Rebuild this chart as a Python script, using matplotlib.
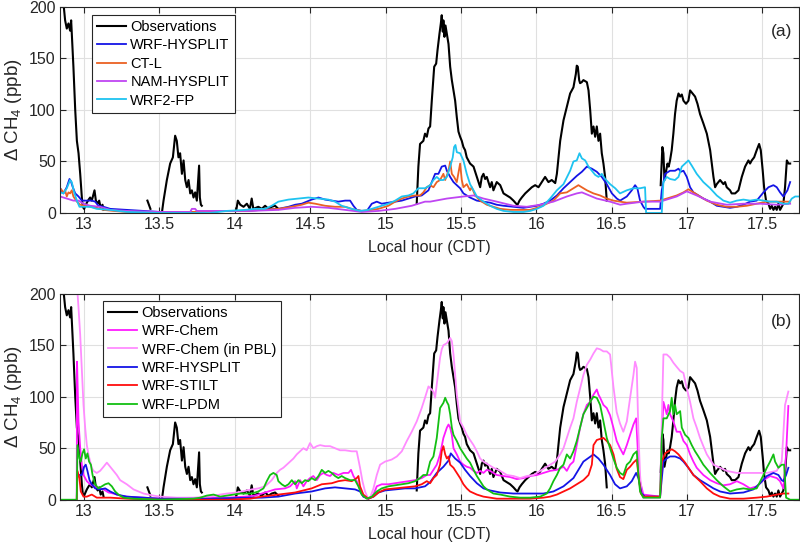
import numpy as np
import matplotlib
matplotlib.use("Agg")
import matplotlib.pyplot as plt

nan = np.nan

xticks = [13, 13.5, 14, 14.5, 15, 15.5, 16, 16.5, 17, 17.5]
xtick_labels = ["13", "13.5", "14", "14.5", "15", "15.5", "16", "16.5", "17", "17.5"]
yticks = [0, 50, 100, 150, 200]

# observations (same in both panels), nan = gap in the record
obs_t = [12.845, 12.862, 12.874, 12.885, 12.896, 12.907, 12.914, 12.929, 12.941, 12.952,
         12.963, 12.974, 12.985, 12.991, 13.000, 13.018, 13.030, 13.040, 13.051, 13.062,
         13.069, 13.078, 13.090, 13.100, 13.110, 13.122, 13.129, nan,
         13.420, 13.430, 13.440, nan,
         13.516, 13.527, 13.549, 13.571, 13.589, 13.604, 13.615, 13.626, 13.637, 13.649,
         13.660, 13.671, 13.682, 13.693, 13.704, 13.715, 13.726, 13.737, 13.748, 13.758,
         13.763, 13.768, 13.775, 13.781, nan,
         14.010, 14.020, 14.036, 14.058, 14.080, 14.100, 14.112, 14.123, 14.140, 14.156,
         14.179, 14.201, 14.223, 14.245, 14.267, 14.289, nan,
         15.207, 15.218, 15.229, 15.251, 15.262, 15.274, 15.285, 15.296, 15.307, 15.323,
         15.336, 15.345, 15.358, 15.367, 15.373, 15.380, 15.384, 15.391, 15.398, 15.407,
         15.418, 15.429, 15.440, 15.451, 15.462, 15.473, 15.484, 15.495, 15.506, 15.517,
         15.528, 15.539, 15.550, 15.561, 15.584, 15.606, 15.628, 15.639, 15.650, 15.661,
         15.672, 15.683, 15.694, 15.705, 15.716, 15.738, 15.761, 15.783, 15.805, 15.827,
         15.849, 15.867, 15.876, 15.889, 15.904, 15.927, 15.949, 15.971, 15.993, 16.015,
         16.037, 16.059, 16.081, 16.103, 16.126, 16.137, 16.148, 16.159, 16.181, 16.203,
         16.225, 16.247, 16.263, 16.269, 16.276, 16.285, 16.291, 16.302, 16.313, 16.336,
         16.347, 16.358, 16.369, 16.380, 16.391, 16.402, 16.413, 16.424, 16.435, 16.446,
         16.457, 16.468, nan,
         16.826, 16.837, 16.844, 16.851, 16.862, 16.871, 16.879, 16.888, 16.899, 16.910,
         16.921, 16.932, 16.944, 16.955, 16.966, 16.977, 16.994, 17.010, 17.021, 17.032,
         17.043, 17.054, 17.070, 17.087, 17.109, 17.132, 17.154, 17.165, 17.176, 17.187,
         17.198, 17.220, 17.242, 17.253, 17.264, 17.286, 17.297, 17.320, 17.342, 17.364,
         17.386, 17.408, 17.419, 17.430, 17.446, 17.463, 17.479, 17.490, 17.503, 17.512,
         17.525, 17.541, 17.552, 17.563, 17.574, 17.585, 17.596, 17.607, 17.618, 17.629,
         17.640, 17.651, 17.663, 17.674, 17.685]
obs_v = [230, 205, 187, 179, 184, 177, 187, 142, 100, 70,
         58, 38, 15, 6, 4, 10, 13, 15, 12, 18,
         22, 12, 9, 12, 5, 8, 3, nan,
         12, 8, 4, nan,
         0, 12, 32, 48, 54, 75, 70, 54, 58, 38,
         51, 32, 25, 32, 19, 22, 15, 20, 12, 35,
         46, 15, 8, 7, nan,
         3, 12, 8, 6, 9, 4, 14, 4, 5, 6,
         4, 7, 4, 6, 7, 4, nan,
         9, 45, 67, 70, 77, 74, 82, 84, 109, 142,
         145, 158, 174, 184, 192, 176, 187, 171, 182, 174,
         164, 142, 129, 119, 109, 93, 79, 74, 70, 64,
         61, 54, 51, 48, 45, 35, 25, 35, 38, 33,
         35, 30, 25, 30, 22, 30, 27, 19, 17, 15,
         12, 9, 8, 12, 15, 19, 22, 25, 27, 25,
         30, 35, 30, 32, 29, 38, 54, 70, 90, 103,
         116, 122, 135, 143, 142, 129, 126, 127, 129, 127,
         119, 100, 77, 84, 74, 84, 70, 77, 58, 48,
         35, 12, nan,
         27, 64, 58, 32, 41, 48, 45, 51, 61, 77,
         96, 109, 116, 113, 115, 109, 106, 109, 119, 117,
         115, 113, 106, 96, 87, 77, 61, 48, 35, 25,
         28, 32, 28, 30, 25, 22, 19, 19, 22, 35,
         45, 51, 48, 51, 54, 61, 67, 61, 41, 25,
         12, 9, 4, 7, 3, 6, 3, 9, 3, 6,
         9, 25, 51, 48, 48]

# panel (a) models
hys_a_t = [12.841, 12.863, 12.885, 12.903, 12.912, 12.925, 12.941, 12.963, 12.985, 13.018,
           13.051, 13.073, 13.095, 13.129, 13.173, 13.283, 13.394, 13.505, 13.726, 13.837,
           13.947, 14.068, 14.179, 14.289, 14.356, 14.400, 14.444, 14.510, 14.555, 14.599,
           14.643, 14.687, 14.732, 14.765, 14.787, 14.809, 14.842, 14.876, 14.909, 14.942,
           14.975, 15.019, 15.064, 15.108, 15.152, 15.196, 15.240, 15.285, 15.307, 15.329,
           15.351, 15.373, 15.396, 15.407, 15.429, 15.451, 15.473, 15.495, 15.517, 15.561,
           15.606, 15.650, 15.694, 15.738, 15.783, 15.849, 15.915, 15.960, 16.004, 16.048,
           16.092, 16.137, 16.181, 16.225, 16.269, 16.303, 16.336, 16.369, 16.402, 16.435,
           16.468, 16.502, 16.535, 16.556, 16.601, 16.634, 16.656, 16.671, 16.689, 16.711,
           16.722, 16.822, 16.833, 16.855, 16.888, 16.921, 16.944, 16.959, 16.977, 16.999,
           17.021, 17.043, 17.076, 17.109, 17.154, 17.198, 17.242, 17.286, 17.331, 17.375,
           17.419, 17.463, 17.508, 17.541, 17.574, 17.596, 17.618, 17.640, 17.667, 17.685]
hys_a_v = [24, 19, 25, 33, 31, 25, 19, 16, 12, 12,
           12, 11, 7, 6, 4, 3, 2, 1, 1, 2,
           2, 2, 3, 4, 6, 8, 9, 13, 15, 13,
           12, 11, 12, 12, 7, 3, 2, 2, 9, 11,
           9, 10, 11, 12, 14, 16, 17, 22, 30, 38,
           38, 45, 46, 41, 35, 30, 27, 24, 19, 15,
           12, 11, 10, 8, 7, 6, 5, 6, 7, 9,
           12, 17, 24, 30, 36, 40, 45, 43, 40, 35,
           28, 19, 14, 12, 16, 22, 27, 24, 12, 6,
           4, 4, 22, 38, 41, 41, 43, 40, 41, 35,
           25, 20, 17, 14, 11, 7, 6, 5, 6, 8,
           11, 12, 20, 25, 27, 25, 20, 16, 22, 30]

ctl_a_t = [12.841, 12.863, 12.874, 12.885, 12.896, 12.907, 12.918, 12.929, 12.952, 12.974,
           13.007, 13.040, 13.084, 13.129, 13.195, 13.283, 13.505, 13.726, 13.837, 13.947,
           14.068, 14.179, 14.289, 14.378, 14.444, 14.488, 14.533, 14.599, 14.665, 14.732,
           14.798, 14.842, 14.909, 14.953, 15.019, 15.064, 15.108, 15.152, 15.196, 15.229,
           15.251, 15.274, 15.296, 15.318, 15.340, 15.362, 15.384, 15.396, 15.418, 15.429,
           15.440, 15.455, 15.473, 15.495, 15.506, 15.517, 15.539, 15.561, 15.572, 15.595,
           15.628, 15.672, 15.716, 15.761, 15.827, 15.893, 15.960, 16.026, 16.070, 16.114,
           16.159, 16.203, 16.247, 16.280, 16.302, 16.336, 16.380, 16.424, 16.468, 16.513,
           16.556, 16.601, 16.711, 16.822, 16.888, 16.932, 16.977, 17.010, 17.043, 17.087,
           17.132, 17.198, 17.264, 17.331, 17.397, 17.463, 17.530, 17.596, 17.685]
ctl_a_v = [24, 20, 22, 16, 20, 19, 22, 16, 11, 8,
           7, 6, 5, 3, 2, 1, 0, 1, 2, 2,
           2, 3, 4, 6, 8, 10, 9, 7, 6, 6,
           3, 2, 3, 4, 7, 11, 14, 16, 17, 17,
           20, 25, 27, 25, 30, 32, 38, 32, 41, 50,
           38, 35, 30, 48, 32, 25, 28, 22, 25, 17,
           12, 8, 6, 4, 3, 3, 3, 6, 9, 12,
           19, 20, 24, 27, 25, 22, 19, 17, 14, 12,
           11, 10, 11, 12, 15, 17, 20, 23, 20, 16,
           12, 8, 6, 6, 7, 9, 11, 11, 11]

nam_a_t = [12.841, 12.885, 12.929, 12.963, 12.996, 13.040, 13.106, 13.173, 13.283, 13.505,
           13.704, 13.715, 13.737, 13.748, 13.837, 14.102, 14.289, 14.400, 14.510, 14.621,
           14.732, 14.842, 14.953, 15.064, 15.174, 15.262, 15.296, 15.407, 15.517, 15.584,
           15.650, 15.738, 15.849, 15.937, 16.026, 16.114, 16.203, 16.269, 16.303, 16.336,
           16.402, 16.490, 16.557, 16.601, 16.711, 16.822, 16.932, 16.999, 17.065, 17.154,
           17.264, 17.375, 17.486, 17.596, 17.685]
nam_a_v = [16, 14, 12, 12, 9, 7, 6, 3, 2, 1,
           1, 4, 4, 2, 2, 2, 3, 5, 6, 5,
           3, 1, 2, 4, 7, 11, 11, 14, 16, 17,
           14, 11, 7, 6, 8, 11, 16, 19, 20, 18,
           14, 11, 8, 9, 11, 11, 16, 21, 17, 11,
           8, 9, 9, 8, 9]

fp_a_t = [12.841, 12.863, 12.885, 12.907, 12.918, 12.934, 12.952, 12.969, 12.996, 13.040,
          13.084, 13.173, 13.283, 13.505, 13.837, 13.947, 14.068, 14.134, 14.201, 14.245,
          14.289, 14.356, 14.422, 14.488, 14.555, 14.621, 14.665, 14.709, 14.776, 14.831,
          14.886, 14.953, 15.019, 15.064, 15.108, 15.152, 15.185, 15.218, 15.262, 15.296,
          15.318, 15.340, 15.362, 15.384, 15.407, 15.429, 15.446, 15.455, 15.464, 15.473,
          15.495, 15.517, 15.539, 15.561, 15.584, 15.606, 15.650, 15.694, 15.738, 15.783,
          15.849, 15.915, 15.960, 16.004, 16.048, 16.092, 16.137, 16.181, 16.225, 16.247,
          16.269, 16.287, 16.303, 16.325, 16.347, 16.369, 16.391, 16.413, 16.435, 16.457,
          16.490, 16.524, 16.556, 16.601, 16.645, 16.689, 16.722, 16.729, 16.833, 16.844,
          16.866, 16.888, 16.921, 16.944, 16.966, 16.988, 17.010, 17.032, 17.065, 17.109,
          17.154, 17.198, 17.242, 17.286, 17.331, 17.375, 17.419, 17.463, 17.508, 17.552,
          17.596, 17.640, 17.673, 17.696, 17.718, 17.751]
fp_a_v = [20, 19, 24, 32, 30, 20, 12, 6, 6, 6,
          4, 3, 1, 0, 0, 2, 3, 4, 4, 7,
          11, 13, 14, 15, 14, 13, 11, 7, 4, 2,
          3, 6, 9, 12, 16, 17, 19, 24, 24, 27,
          32, 35, 32, 32, 35, 45, 54, 64, 66, 59,
          58, 51, 38, 28, 22, 16, 11, 7, 4, 2,
          1, 1, 2, 4, 7, 14, 22, 28, 41, 50,
          51, 58, 53, 51, 45, 41, 37, 35, 38, 33,
          28, 24, 19, 22, 24, 24, 25, 0, 0, 30,
          35, 33, 32, 35, 45, 48, 51, 46, 38, 30,
          24, 17, 12, 10, 12, 13, 12, 13, 12, 11,
          11, 9, 9, 14, 16, 16]

# panel (b) models
chem_b_t = [12.951, 12.953, 12.963, 12.974, 12.985, 12.996, 13.018, 13.040, 13.062, 13.095,
            13.129, 13.162, 13.195, 13.239, 13.283, 13.394, 13.505, 13.726, 13.837, 13.947,
            14.068, 14.134, 14.201, 14.267, 14.333, 14.367, 14.400, 14.411, 14.433, 14.455,
            14.477, 14.499, 14.521, 14.544, 14.566, 14.588, 14.610, 14.632, 14.654, 14.687,
            14.721, 14.754, 14.771, 14.787, 14.809, 14.831, 14.853, 14.886, 14.920, 14.942,
            14.975, 15.019, 15.064, 15.108, 15.152, 15.196, 15.240, 15.274, 15.296, 15.318,
            15.340, 15.362, 15.384, 15.407, 15.418, 15.429, 15.440, 15.451, 15.473, 15.495,
            15.517, 15.539, 15.561, 15.584, 15.606, 15.628, 15.650, 15.672, 15.694, 15.738,
            15.783, 15.827, 15.871, 15.915, 15.960, 16.004, 16.048, 16.092, 16.137, 16.181,
            16.203, 16.225, 16.247, 16.269, 16.291, 16.313, 16.336, 16.358, 16.380, 16.402,
            16.413, 16.424, 16.446, 16.468, 16.490, 16.512, 16.534, 16.556, 16.578, 16.601,
            16.623, 16.645, 16.663, 16.678, 16.689, 16.711, 16.822, 16.833, 16.844, 16.866,
            16.877, 16.888, 16.910, 16.932, 16.955, 16.977, 16.999, 17.021, 17.043, 17.065,
            17.109, 17.154, 17.198, 17.242, 17.286, 17.331, 17.375, 17.419, 17.463, 17.508,
            17.552, 17.596, 17.618, 17.640, 17.658, 17.673]
chem_b_v = [0, 134, 76, 50, 34, 24, 18, 15, 13, 11,
            10, 7, 6, 4, 3, 2, 1, 1, 2, 2,
            3, 4, 7, 10, 11, 13, 18, 11, 19, 13,
            18, 21, 23, 19, 24, 26, 24, 23, 26, 24,
            26, 26, 29, 23, 18, 10, 3, 1, 5, 13,
            15, 15, 16, 17, 18, 19, 21, 24, 24, 29,
            34, 44, 60, 70, 73, 70, 63, 50, 44, 37,
            34, 32, 31, 28, 26, 28, 26, 29, 28, 24,
            23, 22, 20, 21, 23, 24, 26, 28, 29, 32,
            28, 34, 37, 53, 70, 83, 92, 95, 102, 107,
            102, 99, 92, 89, 82, 70, 57, 50, 44, 53,
            63, 73, 79, 37, 18, 5, 3, 60, 95, 83,
            92, 83, 76, 66, 66, 57, 53, 44, 37, 31,
            24, 19, 16, 14, 15, 18, 15, 11, 13, 19,
            23, 21, 18, 11, 44, 91]

pbl_b_t = [12.952, 12.963, 12.974, 12.985, 12.996, 13.007, 13.018, 13.029, 13.040, 13.051,
           13.062, 13.084, 13.106, 13.129, 13.151, 13.173, 13.195, 13.217, 13.239, 13.283,
           13.328, 13.394, 13.460, 13.505, 13.615, 13.726, 13.837, 13.903, 13.947, 14.014,
           14.112, 14.156, 14.201, 14.245, 14.278, 14.300, 14.322, 14.344, 14.367, 14.389,
           14.411, 14.433, 14.455, 14.477, 14.499, 14.521, 14.544, 14.566, 14.599, 14.632,
           14.665, 14.698, 14.732, 14.776, 14.809, 14.831, 14.847, 14.864, 14.882, 14.898,
           14.920, 14.942, 14.964, 14.997, 15.041, 15.075, 15.108, 15.141, 15.174, 15.207,
           15.240, 15.262, 15.285, 15.318, 15.329, 15.340, 15.351, 15.362, 15.373, 15.384,
           15.407, 15.429, 15.440, 15.451, 15.462, 15.473, 15.484, 15.495, 15.506, 15.517,
           15.539, 15.561, 15.584, 15.606, 15.628, 15.650, 15.683, 15.716, 15.761, 15.805,
           15.849, 15.893, 15.937, 15.982, 16.026, 16.059, 16.092, 16.126, 16.159, 16.181,
           16.203, 16.225, 16.247, 16.269, 16.291, 16.313, 16.336, 16.358, 16.380, 16.402,
           16.424, 16.446, 16.468, 16.490, 16.512, 16.534, 16.556, 16.578, 16.601, 16.623,
           16.645, 16.656, 16.667, 16.678, 16.689, 16.700, 16.711, 16.822, 16.833, 16.844,
           16.866, 16.888, 16.910, 16.932, 16.955, 16.977, 16.999, 17.021, 17.043, 17.065,
           17.087, 17.109, 17.132, 17.154, 17.176, 17.220, 17.264, 17.331, 17.397, 17.463,
           17.530, 17.596, 17.629, 17.651, 17.673]
pbl_b_v = [210, 186, 160, 125, 92, 70, 53, 44, 37, 31,
           28, 26, 28, 32, 36, 32, 28, 24, 19, 15,
           10, 6, 4, 3, 2, 2, 3, 5, 6, 7,
           10, 11, 13, 19, 26, 29, 31, 34, 37, 40,
           44, 47, 50, 48, 55, 50, 52, 53, 52, 52,
           50, 48, 48, 47, 47, 31, 18, 8, 2, 2,
           11, 24, 34, 37, 39, 42, 47, 57, 66, 76,
           89, 99, 110, 105, 99, 112, 125, 138, 146, 150,
           152, 157, 154, 141, 121, 102, 89, 76, 73, 70,
           63, 58, 53, 47, 40, 37, 34, 31, 28, 24,
           23, 21, 23, 24, 28, 31, 34, 37, 44, 50,
           60, 70, 79, 95, 108, 121, 131, 136, 142, 147,
           146, 144, 144, 141, 110, 85, 74, 66, 76, 99,
           121, 134, 128, 66, 24, 6, 2, 2, 76, 141,
           141, 138, 133, 129, 125, 123, 108, 95, 79, 70,
           60, 52, 44, 39, 34, 31, 28, 26, 26, 26,
           26, 28, 37, 92, 105]

hys_b_t = [12.955, 12.985, 13.000, 13.011, 13.022, 13.036, 13.051, 13.073, 13.106, 13.140,
           13.173, 13.217, 13.283, 13.394, 13.505, 13.837, 14.102, 14.179, 14.289, 14.400,
           14.510, 14.599, 14.665, 14.732, 14.798, 14.831, 14.853, 14.886, 14.920, 14.953,
           14.997, 15.064, 15.130, 15.196, 15.262, 15.296, 15.340, 15.384, 15.418, 15.433,
           15.462, 15.495, 15.528, 15.561, 15.606, 15.650, 15.694, 15.761, 15.849, 15.960,
           16.048, 16.114, 16.181, 16.247, 16.313, 16.380, 16.413, 16.446, 16.490, 16.523,
           16.556, 16.601, 16.634, 16.663, 16.678, 16.700, 16.722, 16.822, 16.844, 16.866,
           16.888, 16.921, 16.955, 16.977, 17.010, 17.043, 17.087, 17.132, 17.176, 17.220,
           17.286, 17.375, 17.441, 17.486, 17.530, 17.574, 17.607, 17.629, 17.640, 17.658,
           17.673]
hys_b_v = [24, 24, 32, 34, 28, 19, 15, 11, 10, 11,
           8, 5, 3, 2, 1, 1, 2, 2, 3, 6,
           8, 11, 12, 11, 10, 8, 3, 1, 3, 7,
           9, 10, 11, 11, 13, 17, 26, 32, 38, 45,
           40, 36, 29, 23, 16, 11, 9, 7, 6, 6,
           6, 8, 13, 21, 37, 44, 40, 34, 24, 15,
           11, 13, 18, 26, 21, 6, 3, 3, 37, 40,
           42, 42, 40, 37, 31, 24, 19, 15, 11, 8,
           6, 7, 10, 16, 23, 26, 24, 19, 18, 24,
           31]

stilt_b_t = [12.951, 12.956, 12.969, 12.978, 12.996, 13.018, 13.051, 13.084, 13.173, 13.283,
             13.505, 13.947, 14.102, 14.179, 14.289, 14.400, 14.510, 14.577, 14.643, 14.687,
             14.732, 14.776, 14.809, 14.820, 14.831, 14.853, 14.886, 14.920, 14.953, 14.997,
             15.064, 15.130, 15.196, 15.240, 15.274, 15.296, 15.318, 15.340, 15.362, 15.373,
             15.384, 15.396, 15.407, 15.418, 15.429, 15.451, 15.473, 15.495, 15.517, 15.539,
             15.561, 15.606, 15.650, 15.694, 15.738, 15.960, 16.048, 16.092, 16.137, 16.181,
             16.225, 16.269, 16.313, 16.347, 16.369, 16.380, 16.402, 16.446, 16.468, 16.490,
             16.513, 16.534, 16.556, 16.578, 16.601, 16.623, 16.645, 16.667, 16.678, 16.694,
             16.711, 16.822, 16.833, 16.855, 16.877, 16.899, 16.921, 16.944, 16.966, 16.988,
             17.010, 17.043, 17.087, 17.132, 17.176, 17.220, 17.286, 17.375, 17.463, 17.530,
             17.596, 17.640, 17.673]
stilt_b_v = [0, 28, 21, 8, 3, 3, 5, 2, 2, 1,
             0, 0, 1, 3, 5, 7, 11, 15, 16, 18,
             19, 18, 21, 23, 13, 5, 1, 3, 7, 10,
             11, 12, 13, 15, 18, 16, 21, 24, 34, 47,
             52, 44, 40, 42, 34, 31, 26, 21, 15, 11,
             8, 5, 3, 2, 1, 1, 2, 3, 5, 8,
             11, 15, 19, 24, 34, 53, 58, 60, 57, 53,
             44, 30, 22, 20, 29, 32, 36, 39, 24, 6,
             3, 3, 37, 45, 47, 49, 47, 44, 40, 36,
             31, 24, 18, 11, 6, 3, 1, 1, 2, 3,
             5, 6, 6]

lpdm_b_t = [12.841, 12.951, 12.956, 12.969, 12.978, 12.989, 13.000, 13.011, 13.022, 13.033,
            13.045, 13.056, 13.073, 13.095, 13.118, 13.140, 13.162, 13.184, 13.206, 13.228,
            13.261, 13.328, 13.505, 13.726, 13.770, 13.814, 13.859, 13.903, 13.947, 13.991,
            14.036, 14.112, 14.156, 14.190, 14.212, 14.234, 14.256, 14.278, 14.289, 14.311,
            14.333, 14.356, 14.378, 14.400, 14.422, 14.444, 14.466, 14.488, 14.510, 14.533,
            14.555, 14.577, 14.599, 14.621, 14.643, 14.665, 14.687, 14.709, 14.732, 14.765,
            14.798, 14.820, 14.842, 14.875, 14.909, 14.942, 14.975, 15.019, 15.064, 15.108,
            15.152, 15.196, 15.229, 15.251, 15.274, 15.296, 15.318, 15.340, 15.362, 15.384,
            15.396, 15.407, 15.418, 15.429, 15.440, 15.451, 15.473, 15.495, 15.517, 15.539,
            15.561, 15.584, 15.606, 15.628, 15.650, 15.672, 15.716, 15.761, 15.827, 15.893,
            15.960, 16.026, 16.070, 16.092, 16.114, 16.137, 16.159, 16.181, 16.203, 16.225,
            16.247, 16.269, 16.291, 16.313, 16.336, 16.358, 16.380, 16.402, 16.424, 16.446,
            16.468, 16.490, 16.512, 16.534, 16.556, 16.578, 16.601, 16.623, 16.645, 16.667,
            16.678, 16.689, 16.711, 16.822, 16.833, 16.844, 16.866, 16.888, 16.899, 16.910,
            16.921, 16.932, 16.955, 16.966, 16.988, 17.010, 17.032, 17.054, 17.076, 17.109,
            17.154, 17.198, 17.242, 17.286, 17.331, 17.375, 17.419, 17.463, 17.508, 17.530,
            17.552, 17.574, 17.585, 17.607, 17.629, 17.645, 17.658, 17.685, 17.751]
lpdm_b_v = [0, 0, 53, 40, 37, 45, 49, 40, 45, 37,
            34, 24, 15, 11, 13, 15, 16, 13, 8, 5,
            2, 1, 0, 1, 2, 4, 5, 3, 4, 5,
            6, 6, 8, 11, 18, 24, 26, 24, 18, 15,
            13, 15, 19, 15, 19, 16, 19, 18, 21, 19,
            23, 29, 26, 28, 26, 23, 21, 23, 21, 19,
            19, 13, 5, 1, 3, 8, 11, 13, 14, 15,
            16, 18, 21, 24, 24, 37, 42, 60, 89, 94,
            99, 95, 92, 83, 70, 63, 57, 50, 45, 40,
            36, 29, 23, 18, 13, 10, 6, 5, 3, 2,
            2, 3, 6, 11, 18, 24, 31, 34, 44, 40,
            47, 57, 70, 83, 89, 95, 100, 99, 92, 76,
            60, 50, 40, 31, 26, 24, 34, 37, 44, 47,
            24, 8, 2, 2, 60, 79, 79, 86, 99, 83,
            92, 83, 86, 70, 63, 60, 53, 47, 42, 34,
            26, 19, 13, 8, 10, 11, 10, 11, 24, 31,
            37, 44, 37, 31, 34, 34, 2, 0, 0]

plt.rcParams['font.family'] = ['Liberation Sans', 'DejaVu Sans']
plt.rcParams['mathtext.fontset'] = 'custom'
plt.rcParams['mathtext.rm'] = 'Liberation Sans'
plt.rcParams['mathtext.it'] = 'Liberation Sans:italic'
plt.rcParams['font.size'] = 11.5

fig = plt.figure(figsize=(8, 5.44), dpi=100)
ax_a = fig.add_axes([0.075, 0.6085, 0.924, 0.3787])
ax_b = fig.add_axes([0.075, 0.0814, 0.924, 0.3787])

edge = '#262626'


def style_axes(ax, tag, tag_y):
    ax.set_xlim(12.84, 17.745)
    ax.set_ylim(0, 200)
    ax.set_xticks(xticks)
    ax.set_xticklabels(xtick_labels)
    ax.set_yticks(yticks)
    ax.grid(True, color='#e0e0e0', linewidth=0.8)
    ax.set_axisbelow(True)
    ax.tick_params(direction='in', top=True, right=True, length=4, width=0.8,
                   colors=edge, labelcolor=edge, pad=3, labelsize=11.5)
    for s in ax.spines.values():
        s.set_color(edge)
        s.set_linewidth(0.8)
    ax.set_xlabel('Local hour (CDT)', color=edge, labelpad=6, fontsize=11.5)
    ax.set_ylabel(r'$\Delta$ CH$_4$ (ppb)', color=edge, labelpad=4, fontsize=13.5)
    ax.text(0.99, tag_y, tag, transform=ax.transAxes, ha='right', va='center',
            fontsize=12.5, color=edge)


lw = 1.3
# panel (a)
ax_a.plot(obs_t, obs_v, color='black', lw=1.5, label='Observations')
ax_a.plot(hys_a_t, hys_a_v, color='#1414e6', lw=lw, label='WRF-HYSPLIT')
ax_a.plot(ctl_a_t, ctl_a_v, color='#eb6123', lw=lw, label='CT-L')
ax_a.plot(nam_a_t, nam_a_v, color='#bf45f2', lw=lw, label='NAM-HYSPLIT')
ax_a.plot(fp_a_t, fp_a_v, color='#1ec3f0', lw=lw, label='WRF2-FP')
style_axes(ax_a, '(a)', 0.879)

# panel (b)
ax_b.plot(obs_t, obs_v, color='black', lw=1.5, label='Observations')
ax_b.plot(chem_b_t, chem_b_v, color='#ff1aff', lw=lw, label='WRF-Chem')
ax_b.plot(pbl_b_t, pbl_b_v, color='#ff8cff', lw=lw, label='WRF-Chem (in PBL)')
ax_b.plot(hys_b_t, hys_b_v, color='#1414e6', lw=lw, label='WRF-HYSPLIT')
ax_b.plot(stilt_b_t, stilt_b_v, color='#ff0d0d', lw=lw, label='WRF-STILT')
ax_b.plot(lpdm_b_t, lpdm_b_v, color='#12bf12', lw=lw, label='WRF-LPDM')
style_axes(ax_b, '(b)', 0.867)

for ax, anchor in ((ax_a, (0.043, 0.961)), (ax_b, (0.058, 0.966))):
    leg = ax.legend(loc='upper left', bbox_to_anchor=anchor, borderaxespad=0,
                    fancybox=False, framealpha=1, edgecolor=edge, fontsize=10.5,
                    handlelength=2.0, handletextpad=0.3, labelspacing=0.3,
                    borderpad=0.35)
    leg.get_frame().set_linewidth(0.8)

fig.savefig('out.png', dpi=100)
